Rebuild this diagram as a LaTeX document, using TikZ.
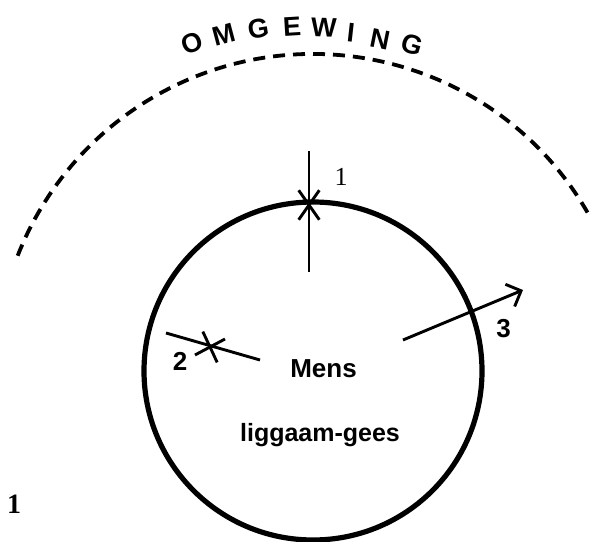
\documentclass[tikz,border=0pt]{standalone}
\usepackage{fontspec}
\newfontfamily\sansf{Liberation Sans}
\newfontfamily\seriff{Liberation Serif}
\usetikzlibrary{arrows.meta,calc}
\begin{document}
\begin{tikzpicture}[x=1pt,y=1pt,
  bodyline/.style={line width=5.2pt},
  envline/.style={line width=3.8pt, dash pattern=on 12pt off 8pt},
  stroke/.style={line width=2.9pt},
  lettr/.style={inner sep=0pt, font=\sansf\bfseries\fontsize{27}{32}\selectfont},
  sanslab/.style={inner sep=0pt, font=\sansf\bfseries\fontsize{26}{30}\selectfont},
  seriflab/.style={inner sep=0pt, font=\seriff\fontsize{26}{30}\selectfont},
  figlab/.style={inner sep=0pt, font=\seriff\bfseries\fontsize{28}{32}\selectfont}]
\useasboundingbox (0,0) rectangle (591,541);
\coordinate (C) at (313,170);
% environment (dashed arc)
\draw[envline] ($(C)+(30:317)$) arc[start angle=30, end angle=160, radius=317];
\foreach \ch/\ang/\rad [count=\i] in {O/110.25/349.6, M/104.8/347.6, G/99.1/346.4, E/93.5/344.6, W/88.2/343.2, I/83.6/340, N/78.6/338.7, G/73.1/340.7} {
  \node[lettr, rotate=\ang-90] (L\i) at ($(C)+(\ang:\rad)$) {\ch};
}
% body
\draw[bodyline] (C) circle[radius=169];
% 1: vertical crossing with asterisk
\coordinate (v1a) at (309,390);
\coordinate (v1b) at (309,269);
\coordinate (s1) at (309,336);
\draw[stroke] (v1a) -- (v1b);
\draw[stroke] ($(s1)+(55:18)$) -- ($(s1)+(235:18)$);
\draw[stroke] ($(s1)+(125:18)$) -- ($(s1)+(305:18)$);
\node[seriflab] (n1) at (341,364.5) {1};
% 2: line with asterisk
\coordinate (l2a) at (166,208);
\coordinate (l2b) at (260,181);
\coordinate (s2) at (210,194);
\draw[stroke] (l2a) -- (l2b);
\draw[stroke] ($(s2)+(28:17)$) -- ($(s2)+(208:17)$);
\draw[stroke] ($(s2)+(115:17)$) -- ($(s2)+(295:17)$);
\node[sanslab] (n2) at (180,179.5) {2};
% 3: arrow outwards
\coordinate (a3a) at (403,201);
\coordinate (a3b) at (523,251);
\draw[stroke, -{Straight Barb[length=12pt, width=24pt]}] (a3a) -- (a3b);
\node[sanslab] (n3) at (503.5,212) {3};
% texts
\node[sanslab, anchor=base] (mens) at (323.5,163.7) {Mens};
\node[sanslab, anchor=base, font=\sansf\bfseries\fontsize{25}{29}\selectfont] (lg) at (320,99.3) {liggaam-gees};
\node[figlab] (fig) at (14,37) {1};
\end{tikzpicture}
\end{document}
